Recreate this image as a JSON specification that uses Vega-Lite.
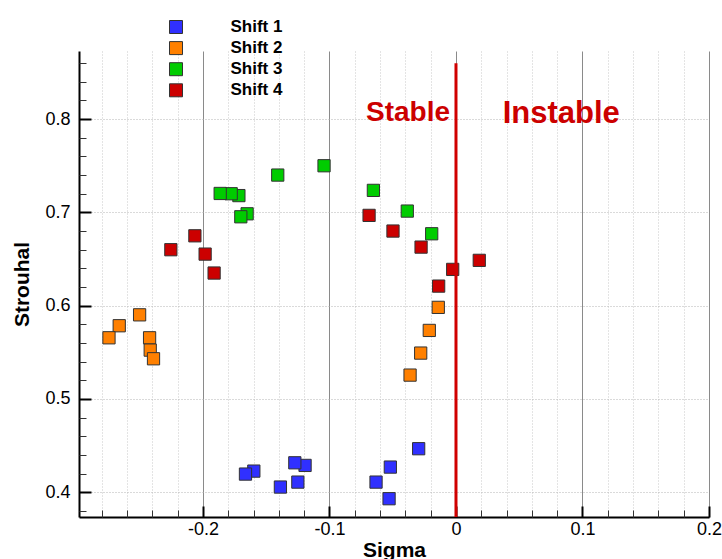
{
  "$schema": "https://vega.github.io/schema/vega-lite/v6.json",
  "width": 630,
  "height": 466,
  "autosize": {"type": "none"},
  "padding": {"left": 79, "top": 51, "right": 13, "bottom": 42},
  "background": "white",
  "config": {
    "font": "Liberation Sans",
    "view": {"stroke": null},
    "axis": {"labelFlush": false, "labelOverlap": false, "labelBound": false}
  },
  "datasets": {
    "points": [
      {"shift": "Shift 1", "sigma": -0.1598, "st": 0.4227},
      {"shift": "Shift 1", "sigma": -0.1664, "st": 0.4195},
      {"shift": "Shift 1", "sigma": -0.1388, "st": 0.4056},
      {"shift": "Shift 1", "sigma": -0.1193, "st": 0.4288},
      {"shift": "Shift 1", "sigma": -0.1274, "st": 0.4316},
      {"shift": "Shift 1", "sigma": -0.1250, "st": 0.4109},
      {"shift": "Shift 1", "sigma": -0.0295, "st": 0.4467},
      {"shift": "Shift 1", "sigma": -0.0519, "st": 0.4270},
      {"shift": "Shift 1", "sigma": -0.0632, "st": 0.4109},
      {"shift": "Shift 1", "sigma": -0.0529, "st": 0.3931},
      {"shift": "Shift 2", "sigma": -0.2501, "st": 0.5902},
      {"shift": "Shift 2", "sigma": -0.2662, "st": 0.5785},
      {"shift": "Shift 2", "sigma": -0.2743, "st": 0.5656},
      {"shift": "Shift 2", "sigma": -0.2422, "st": 0.5656},
      {"shift": "Shift 2", "sigma": -0.2417, "st": 0.5524},
      {"shift": "Shift 2", "sigma": -0.2391, "st": 0.5431},
      {"shift": "Shift 2", "sigma": -0.0140, "st": 0.5982},
      {"shift": "Shift 2", "sigma": -0.0211, "st": 0.5735},
      {"shift": "Shift 2", "sigma": -0.0279, "st": 0.5492},
      {"shift": "Shift 2", "sigma": -0.0363, "st": 0.5256},
      {"shift": "Shift 3", "sigma": -0.1716, "st": 0.7180},
      {"shift": "Shift 3", "sigma": -0.1777, "st": 0.7200},
      {"shift": "Shift 3", "sigma": -0.1864, "st": 0.7203},
      {"shift": "Shift 3", "sigma": -0.1409, "st": 0.7400},
      {"shift": "Shift 3", "sigma": -0.1043, "st": 0.7500},
      {"shift": "Shift 3", "sigma": -0.1651, "st": 0.6985},
      {"shift": "Shift 3", "sigma": -0.1701, "st": 0.6953},
      {"shift": "Shift 3", "sigma": -0.0653, "st": 0.7236},
      {"shift": "Shift 3", "sigma": -0.0385, "st": 0.7014},
      {"shift": "Shift 3", "sigma": -0.0192, "st": 0.6771},
      {"shift": "Shift 4", "sigma": -0.2064, "st": 0.6749},
      {"shift": "Shift 4", "sigma": -0.2254, "st": 0.6600},
      {"shift": "Shift 4", "sigma": -0.1983, "st": 0.6553},
      {"shift": "Shift 4", "sigma": -0.1912, "st": 0.6350},
      {"shift": "Shift 4", "sigma": -0.0687, "st": 0.6968},
      {"shift": "Shift 4", "sigma": -0.0498, "st": 0.6800},
      {"shift": "Shift 4", "sigma": -0.0276, "st": 0.6628},
      {"shift": "Shift 4", "sigma": -0.0026, "st": 0.6389},
      {"shift": "Shift 4", "sigma": 0.0184, "st": 0.6486},
      {"shift": "Shift 4", "sigma": -0.0137, "st": 0.6210}
    ]
  },
  "layer": [
    {
      "data": {"name": "points"},
      "mark": {"type": "square", "size": 150, "filled": true, "opacity": 1, "stroke": "#333333", "strokeWidth": 1},
      "encoding": {
        "x": {
          "field": "sigma", "type": "quantitative",
          "scale": {"domain": [-0.298, 0.2], "nice": false, "zero": false},
          "axis": {
            "orient": "bottom",
            "values": [-0.2, -0.1, 0, 0.1, 0.2],
            "labelExpr": "'' + datum.value",
            "title": "Sigma",
            "titleFontSize": 21, "titleFontWeight": "bold", "titleColor": "black",
            "titleX": 315, "titleY": 39, "titleBaseline": "alphabetic", "titleAlign": "center", "titleAnchor": null,
            "labelFontSize": 18, "labelColor": "black", "labelBaseline": "top", "labelPadding": 14.5,
            "domainColor": "black", "domainWidth": 2,
            "tickColor": "black", "tickWidth": 2, "tickSize": -11,
            "grid": true, "gridColor": "#8a8a8a", "gridWidth": 1
          }
        },
        "y": {
          "field": "st", "type": "quantitative",
          "scale": {"domain": [0.3735, 0.873], "nice": false, "zero": false},
          "axis": {
            "orient": "left",
            "values": [0.4, 0.5, 0.6, 0.7, 0.8],
            "labelExpr": "'' + datum.value",
            "title": "Strouhal",
            "titleFontSize": 21, "titleFontWeight": "bold", "titleColor": "black",
            "titleX": -51, "titleY": 233, "titleAngle": -90, "titleBaseline": "alphabetic", "titleAlign": "center", "titleAnchor": null,
            "labelFontSize": 18, "labelColor": "black", "labelBaseline": "middle", "labelPadding": 21,
            "domainColor": "black", "domainWidth": 2,
            "tickColor": "black", "tickWidth": 2, "tickSize": -12,
            "grid": true, "gridColor": "#b5b5b5", "gridWidth": 1, "gridDash": [1, 2]
          }
        },
        "color": {
          "field": "shift", "type": "nominal",
          "scale": {"domain": ["Shift 1", "Shift 2", "Shift 3", "Shift 4"], "range": ["#3030ff", "#ff8000", "#00cc00", "#cc0000"]},
          "legend": {
            "orient": "none", "legendX": 88.5, "legendY": -32.5, "title": null, "padding": 0,
            "symbolType": "square", "symbolSize": 169, "symbolStrokeColor": "#333333", "symbolStrokeWidth": 1, "symbolOpacity": 1,
            "labelFontSize": 17, "labelFontWeight": "bold", "labelColor": "black", "labelOffset": 46, "rowPadding": 3.1
          }
        }
      }
    },
    {
      "data": {"values": [{"sigma": 0, "ylo": 0.3735, "yhi": 0.86}]},
      "mark": {"type": "rule", "color": "#d00000", "strokeWidth": 3},
      "encoding": {
        "x": {
          "field": "sigma", "type": "quantitative",
          "axis": {
            "orient": "bottom",
            "values": [-0.28, -0.26, -0.24, -0.22, -0.18, -0.16, -0.14, -0.12, -0.08, -0.06, -0.04, -0.02, 0.02, 0.04, 0.06, 0.08, 0.12, 0.14, 0.16, 0.18],
            "labels": false, "title": null, "domain": false,
            "tickColor": "#333333", "tickWidth": 1, "tickSize": -7,
            "grid": true, "gridColor": "#c8c8c8", "gridWidth": 1, "gridDash": [1, 2]
          }
        },
        "y": {
          "field": "ylo", "type": "quantitative",
          "axis": {
            "orient": "left",
            "values": [0.38, 0.42, 0.44, 0.46, 0.48, 0.52, 0.54, 0.56, 0.58, 0.62, 0.64, 0.66, 0.68, 0.72, 0.74, 0.76, 0.78, 0.82, 0.84, 0.86],
            "labels": false, "title": null, "domain": false,
            "tickColor": "#333333", "tickWidth": 1, "tickSize": -7,
            "grid": false
          }
        },
        "y2": {"field": "yhi"}
      }
    },
    {
      "data": {"values": [{"label": "Stable", "sigma": -0.0711, "st": 0.798}]},
      "mark": {"type": "text", "align": "left", "baseline": "alphabetic", "fontSize": 28, "fontWeight": "bold", "color": "#cc0000"},
      "encoding": {
        "x": {"field": "sigma", "type": "quantitative", "axis": null},
        "y": {"field": "st", "type": "quantitative", "axis": null},
        "text": {"field": "label"}
      }
    },
    {
      "data": {"values": [{"label": "Instable", "sigma": 0.0369, "st": 0.796}]},
      "mark": {"type": "text", "align": "left", "baseline": "alphabetic", "fontSize": 31, "fontWeight": "bold", "color": "#cc0000"},
      "encoding": {
        "x": {"field": "sigma", "type": "quantitative", "axis": null},
        "y": {"field": "st", "type": "quantitative", "axis": null},
        "text": {"field": "label"}
      }
    }
  ],
  "resolve": {"axis": {"x": "independent", "y": "independent"}}
}
